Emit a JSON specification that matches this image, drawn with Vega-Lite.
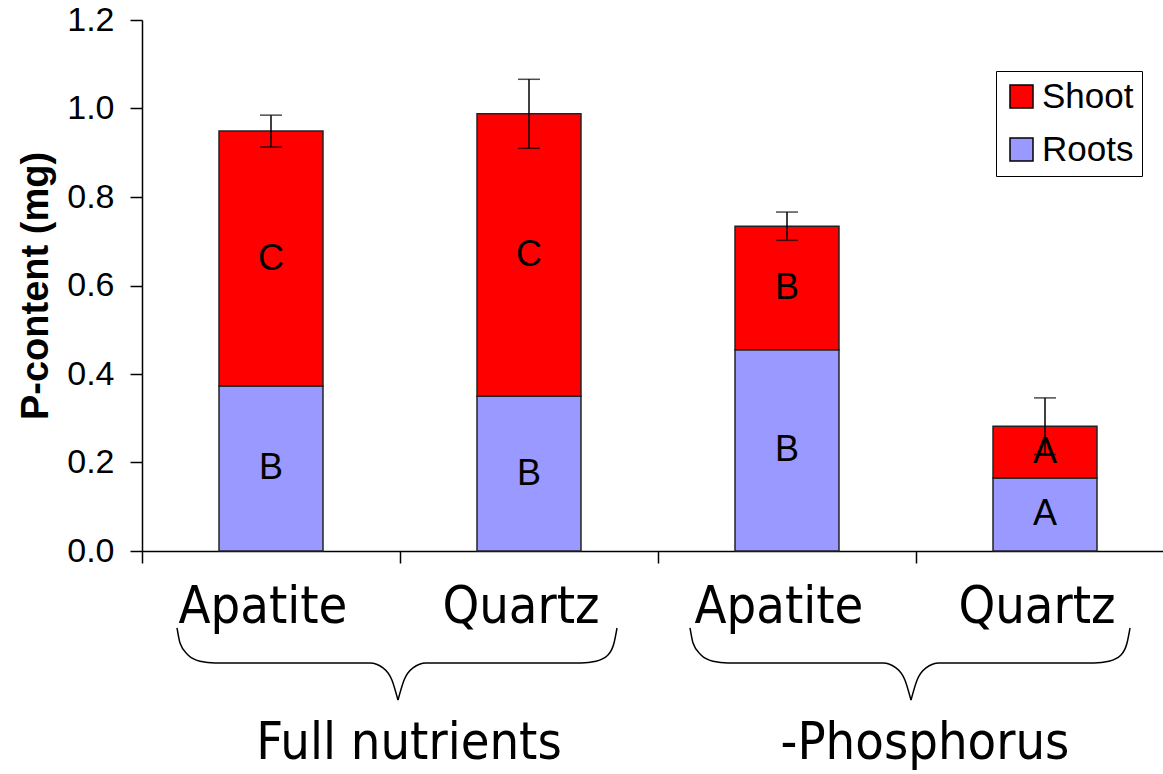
{
  "$schema": "https://vega.github.io/schema/vega-lite/v6.json",
  "width": 1021,
  "height": 531,
  "autosize": {"type": "none"},
  "padding": {"left": 142, "top": 20, "right": 0, "bottom": 223},
  "background": "white",
  "config": {
    "view": {"stroke": null},
    "font": "Liberation Sans",
    "axis": {"grid": false, "labelColor": "black", "titleColor": "black"}
  },
  "datasets": {
    "parts": [
      {"cond": "Full nutrients|Apatite", "part": "Roots", "value": 0.373, "letter": "B"},
      {"cond": "Full nutrients|Apatite", "part": "Shoot", "value": 0.576, "letter": "C"},
      {"cond": "Full nutrients|Quartz", "part": "Roots", "value": 0.350, "letter": "B"},
      {"cond": "Full nutrients|Quartz", "part": "Shoot", "value": 0.638, "letter": "C"},
      {"cond": "-Phosphorus|Apatite", "part": "Roots", "value": 0.455, "letter": "B"},
      {"cond": "-Phosphorus|Apatite", "part": "Shoot", "value": 0.279, "letter": "B"},
      {"cond": "-Phosphorus|Quartz", "part": "Roots", "value": 0.165, "letter": "A"},
      {"cond": "-Phosphorus|Quartz", "part": "Shoot", "value": 0.117, "letter": "A"}
    ],
    "err": [
      {"cond": "Full nutrients|Apatite", "lo": 0.913, "hi": 0.985},
      {"cond": "Full nutrients|Quartz", "lo": 0.910, "hi": 1.066},
      {"cond": "-Phosphorus|Apatite", "lo": 0.702, "hi": 0.766},
      {"cond": "-Phosphorus|Quartz", "lo": 0.218, "hi": 0.346}
    ],
    "brace": [
      {"seg": "b1L", "u": 0.1357, "v": -0.174},
      {"seg": "b1L", "u": 0.1473, "v": -0.208},
      {"seg": "b1L", "u": 0.1783, "v": -0.235},
      {"seg": "b1L", "u": 0.2248, "v": -0.249},
      {"seg": "b1L", "u": 0.2829, "v": -0.253},
      {"seg": "b1L", "u": 0.8837, "v": -0.253},
      {"seg": "b1L", "u": 0.9341, "v": -0.264},
      {"seg": "b1L", "u": 0.9690, "v": -0.292},
      {"seg": "b1L", "u": 0.9922, "v": -0.337},
      {"seg": "b1R", "u": 0.9922, "v": -0.337},
      {"seg": "b1R", "u": 1.0155, "v": -0.292},
      {"seg": "b1R", "u": 1.0504, "v": -0.264},
      {"seg": "b1R", "u": 1.1008, "v": -0.253},
      {"seg": "b1R", "u": 1.7016, "v": -0.253},
      {"seg": "b1R", "u": 1.7597, "v": -0.249},
      {"seg": "b1R", "u": 1.8062, "v": -0.235},
      {"seg": "b1R", "u": 1.8295, "v": -0.208},
      {"seg": "b1R", "u": 1.8411, "v": -0.174},
      {"seg": "b2L", "u": 2.1241, "v": -0.174},
      {"seg": "b2L", "u": 2.1357, "v": -0.208},
      {"seg": "b2L", "u": 2.1667, "v": -0.235},
      {"seg": "b2L", "u": 2.2132, "v": -0.249},
      {"seg": "b2L", "u": 2.2713, "v": -0.253},
      {"seg": "b2L", "u": 2.8721, "v": -0.253},
      {"seg": "b2L", "u": 2.9225, "v": -0.264},
      {"seg": "b2L", "u": 2.9574, "v": -0.292},
      {"seg": "b2L", "u": 2.9806, "v": -0.337},
      {"seg": "b2R", "u": 2.9806, "v": -0.337},
      {"seg": "b2R", "u": 3.0039, "v": -0.292},
      {"seg": "b2R", "u": 3.0388, "v": -0.264},
      {"seg": "b2R", "u": 3.0892, "v": -0.253},
      {"seg": "b2R", "u": 3.6900, "v": -0.253},
      {"seg": "b2R", "u": 3.7481, "v": -0.249},
      {"seg": "b2R", "u": 3.7946, "v": -0.235},
      {"seg": "b2R", "u": 3.8179, "v": -0.208},
      {"seg": "b2R", "u": 3.8295, "v": -0.174}
    ],
    "groups": [
      {"group": "Full nutrients"},
      {"group": "-Phosphorus"}
    ]
  },
  "layer": [
    {
      "layer": [
        {
          "data": {"name": "parts"},
          "transform": [
            {"stack": "value", "groupby": ["cond"], "sort": [{"field": "part", "order": "ascending"}], "as": ["y0", "y1"]}
          ],
          "mark": {"type": "bar", "stroke": "#222222", "strokeWidth": 1.5, "width": {"band": 0.403}},
          "encoding": {
            "x": {
              "field": "cond", "type": "nominal",
              "scale": {
                "domain": ["Full nutrients|Apatite", "Full nutrients|Quartz", "-Phosphorus|Apatite", "-Phosphorus|Quartz"],
                "range": [0, 1032], "paddingInner": 0, "paddingOuter": 0
              },
              "axis": {
                "title": null, "bandPosition": 0, "labelOffset": -8,
                "labelExpr": "split(datum.value, '|')[1]",
                "labelFont": "DejaVu Sans Condensed, DejaVu Sans", "labelFontSize": 52, "labelLimit": 0,
                "labelBaseline": "alphabetic", "labelPadding": 59, "labelAngle": 0,
                "labelOverlap": false, "labelBound": false, "labelFlush": false,
                "tickSize": 12, "tickColor": "black", "tickWidth": 1.5,
                "domainColor": "black", "domainWidth": 1.5
              }
            },
            "y": {
              "field": "y0", "type": "quantitative",
              "scale": {"domain": [0, 1.2], "nice": false, "zero": true},
              "axis": {
                "title": "P-content (mg)", "values": [0, 0.2, 0.4, 0.6, 0.8, 1.0, 1.2], "format": ".1f",
                "labelFontSize": 34, "labelPadding": 16, "tickSize": 12, "tickColor": "black", "tickWidth": 1.5,
                "domainColor": "black", "domainWidth": 1.5,
                "titleFontSize": 38, "titleFontWeight": "bold", "titlePadding": 11
              }
            },
            "y2": {"field": "y1"},
            "color": {
              "field": "part", "type": "nominal",
              "scale": {"domain": ["Shoot", "Roots"], "range": ["#FF0000", "#9999FF"]},
              "legend": {
                "title": null, "orient": "none", "legendX": 854, "legendY": 51,
                "strokeColor": "black", "fillColor": "white", "padding": 8,
                "rowPadding": 17, "labelFontSize": 35, "labelOffset": 3, "labelColor": "black",
                "symbolType": "square", "symbolSize": 529, "symbolStrokeColor": "black",
                "symbolStrokeWidth": 1.5, "symbolOpacity": 1
              }
            }
          }
        },
        {
          "data": {"name": "parts"},
          "transform": [
            {"stack": "value", "groupby": ["cond"], "sort": [{"field": "part", "order": "ascending"}], "as": ["y0", "y1"]},
            {"calculate": "(datum.y0 + datum.y1) / 2", "as": "mid"}
          ],
          "mark": {"type": "text", "fontSize": 36, "color": "black", "align": "center", "baseline": "middle"},
          "encoding": {
            "x": {"field": "cond", "type": "nominal"},
            "y": {"field": "mid", "type": "quantitative"},
            "text": {"field": "letter"}
          }
        },
        {
          "data": {"name": "err"},
          "mark": {"type": "rule", "color": "black", "strokeWidth": 1.5},
          "encoding": {
            "x": {"field": "cond", "type": "nominal"},
            "y": {"field": "lo", "type": "quantitative"},
            "y2": {"field": "hi"}
          }
        },
        {
          "data": {"name": "err"},
          "mark": {"type": "tick", "color": "black", "size": 22, "thickness": 1.5},
          "encoding": {
            "x": {"field": "cond", "type": "nominal"},
            "y": {"field": "hi", "type": "quantitative"}
          }
        },
        {
          "data": {"name": "err"},
          "mark": {"type": "tick", "color": "black", "size": 22, "thickness": 1.5},
          "encoding": {
            "x": {"field": "cond", "type": "nominal"},
            "y": {"field": "lo", "type": "quantitative"}
          }
        }
      ]
    },
    {
      "data": {"name": "brace"},
      "mark": {"type": "line", "color": "black", "strokeWidth": 1.5, "interpolate": "monotone", "clip": false},
      "encoding": {
        "x": {"field": "u", "type": "quantitative", "scale": {"domain": [0, 4], "range": [0, 1032], "nice": false, "zero": false}, "axis": null},
        "y": {"field": "v", "type": "quantitative"},
        "detail": {"field": "seg"}
      }
    },
    {
      "data": {"name": "groups"},
      "mark": {"type": "tick", "opacity": 0},
      "encoding": {
        "x": {
          "field": "group", "type": "nominal",
          "scale": {"domain": ["Full nutrients", "-Phosphorus"], "range": [0, 1032], "paddingInner": 0, "paddingOuter": 0},
          "axis": {
            "orient": "bottom", "title": null, "ticks": false, "tickSize": 0, "domain": false,
            "labelFont": "DejaVu Sans Condensed, DejaVu Sans", "labelFontSize": 52, "labelLimit": 0,
            "labelBaseline": "alphabetic", "labelPadding": 207, "labelOffset": 9, "labelAngle": 0,
            "labelOverlap": false, "labelBound": false, "labelFlush": false
          }
        }
      }
    }
  ],
  "resolve": {"scale": {"x": "independent"}, "axis": {"x": "independent"}}
}
